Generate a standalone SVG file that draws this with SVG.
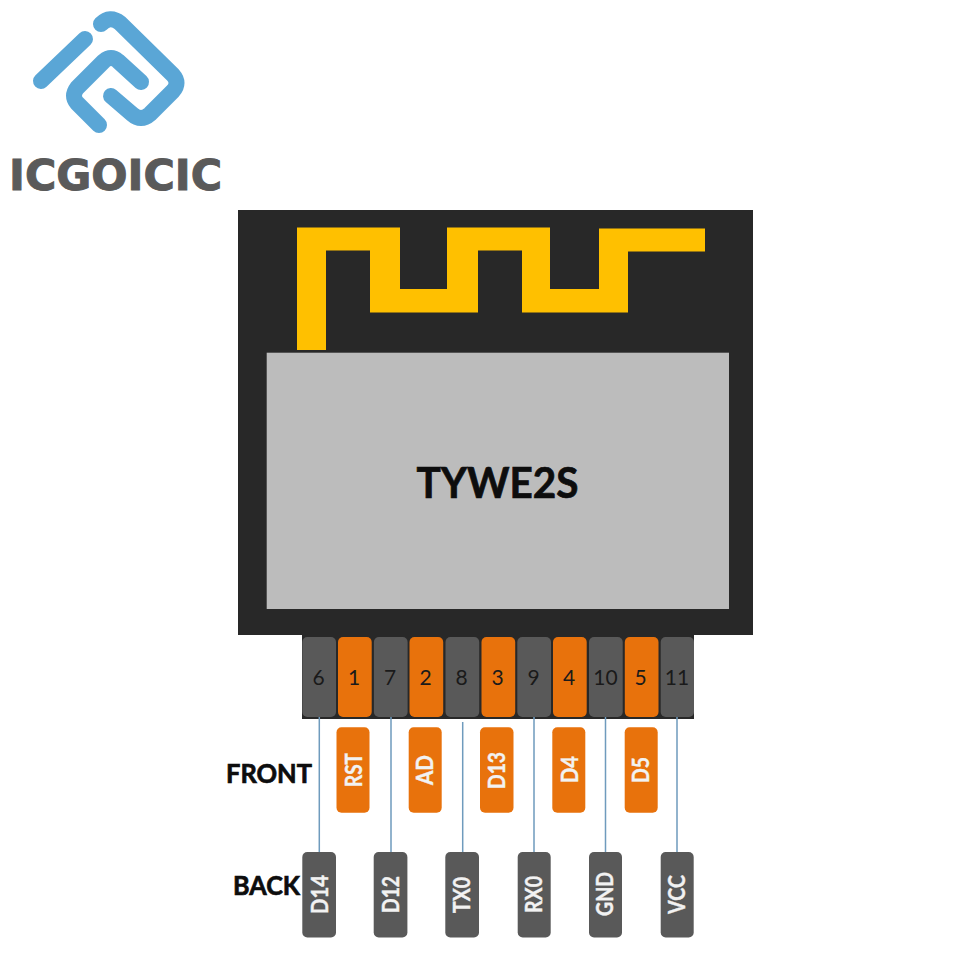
<svg xmlns="http://www.w3.org/2000/svg" width="960" height="960" viewBox="0 0 960 960">
<style>
.t{font-family:Lato,"Open Sans","Liberation Sans",sans-serif}
.pn{font-size:21px;fill:#1a1a1a;text-anchor:middle}
.lb{font-size:22px;font-weight:700;fill:#f2f2f2;stroke:#f2f2f2;stroke-width:.4;text-anchor:middle}
.hd{font-weight:700;fill:#0d0d0d;stroke:#0d0d0d;stroke-width:.7}
.o{fill:#e8720c}
.g{fill:#595959}
.c{stroke:#6f9bbd;stroke-width:1.5;fill:none}
.lg{fill:none;stroke:#5aa6d6;stroke-width:16;stroke-linecap:round;stroke-linejoin:round}
</style>
<rect width="960" height="960" fill="#fff"/>
<g id="logo">
<path class="lg" d="M85 39L41 81"/>
<path class="lg" d="M101 24Q110 15 120 23L173 75Q180 83 173 91L150 114Q141 122 132 114L111 96"/>
<path class="lg" d="M141 82L118 61Q111 55 104 61L77 88Q71 96 77 103L99 125"/>
<text x="9" y="190" font-family="'DejaVu Sans',sans-serif" font-weight="700" font-size="43" fill="#5a5a5a" stroke="#5a5a5a" stroke-width="1" textLength="213" lengthAdjust="spacingAndGlyphs">ICGOICIC</text>
</g>
<g id="module">
<rect x="238" y="210" width="515" height="425" fill="#282828"/>
<path fill="#ffc000" d="M297 227.500H400V289H447V227.500H550V289H599V228.500H705V251.500H628V312.500H522V250.500H478V312.500H370V250.500H326V350H297Z"/>
<rect x="266.700" y="352.700" width="462.300" height="256.300" fill="#bcbcbc"/>
<text class="t hd" x="416.500" y="497.500" font-size="42" textLength="162" lengthAdjust="spacingAndGlyphs">TYWE2S</text>
</g>
<g id="pin-bar"><rect x="302" y="630" width="392" height="89" fill="#282828"/></g>
<g id="connectors">
<path class="c" d="M319.300 717V852M391 717V852M462.700 722V852M534 717V852M605.500 717V852M677 717V852"/>
</g>
<g id="pin-6"><rect class="g" x="302.300" y="637" width="33.700" height="80" rx="5"/><text class="t pn" x="318.500" y="685">6</text></g>
<g id="pin-1"><rect class="o" x="338" y="637" width="33.700" height="80" rx="5"/><text class="t pn" x="354" y="685">1</text></g>
<g id="pin-7"><rect class="g" x="373.900" y="637" width="33.700" height="80" rx="5"/><text class="t pn" x="390" y="685">7</text></g>
<g id="pin-2"><rect class="o" x="409.500" y="637" width="33.700" height="80" rx="5"/><text class="t pn" x="425.500" y="685">2</text></g>
<g id="pin-8"><rect class="g" x="445.500" y="637" width="33.700" height="80" rx="5"/><text class="t pn" x="461.500" y="685">8</text></g>
<g id="pin-3"><rect class="o" x="481.500" y="637" width="33.700" height="80" rx="5"/><text class="t pn" x="497.500" y="685">3</text></g>
<g id="pin-9"><rect class="g" x="517.300" y="637" width="33.700" height="80" rx="5"/><text class="t pn" x="533.500" y="685">9</text></g>
<g id="pin-4"><rect class="o" x="553" y="637" width="33.700" height="80" rx="5"/><text class="t pn" x="569" y="685">4</text></g>
<g id="pin-10"><rect class="g" x="589" y="637" width="33.700" height="80" rx="5"/><text class="t pn" x="605.500" y="685">10</text></g>
<g id="pin-5"><rect class="o" x="624.800" y="637" width="33.700" height="80" rx="5"/><text class="t pn" x="640.500" y="685">5</text></g>
<g id="pin-11"><rect class="g" x="660.700" y="637" width="33.300" height="80" rx="5"/><text class="t pn" x="677" y="685">11</text></g>
<g id="label-front"><text class="t hd" x="226" y="783" font-size="27" textLength="86" lengthAdjust="spacingAndGlyphs">FRONT</text></g>
<g id="label-back"><text class="t hd" x="233" y="895" font-size="27" textLength="67" lengthAdjust="spacingAndGlyphs">BACK</text></g>
<g id="f-rst"><rect class="o" x="336.500" y="727.300" width="33" height="85.400" rx="5"/><text class="t lb" transform="translate(361.500 770) rotate(-90)" textLength="34" lengthAdjust="spacingAndGlyphs">RST</text></g>
<g id="f-ad"><rect class="o" x="408.700" y="727.300" width="33" height="85.400" rx="5"/><text class="t lb" transform="translate(433 770) rotate(-90)" textLength="30" lengthAdjust="spacingAndGlyphs">AD</text></g>
<g id="f-d13"><rect class="o" x="480" y="727.300" width="33.500" height="85.400" rx="5"/><text class="t lb" transform="translate(505 770.500) rotate(-90)" textLength="37" lengthAdjust="spacingAndGlyphs">D13</text></g>
<g id="f-d4"><rect class="o" x="552.300" y="727.300" width="33" height="85.400" rx="5"/><text class="t lb" transform="translate(578 769.500) rotate(-90)" textLength="27" lengthAdjust="spacingAndGlyphs">D4</text></g>
<g id="f-d5"><rect class="o" x="624.700" y="727.300" width="33" height="85.400" rx="5"/><text class="t lb" transform="translate(649 770) rotate(-90)" textLength="26" lengthAdjust="spacingAndGlyphs">D5</text></g>
<g id="b-d14"><rect class="g" x="302.300" y="852" width="33.700" height="85.400" rx="5"/><text class="t lb" transform="translate(327.500 894.500) rotate(-90)" textLength="39" lengthAdjust="spacingAndGlyphs">D14</text></g>
<g id="b-d12"><rect class="g" x="373.700" y="852" width="33.700" height="85.400" rx="5"/><text class="t lb" transform="translate(399 894.500) rotate(-90)" textLength="37" lengthAdjust="spacingAndGlyphs">D12</text></g>
<g id="b-tx0"><rect class="g" x="445.300" y="852" width="33.700" height="85.400" rx="5"/><text class="t lb" transform="translate(470 895) rotate(-90)" textLength="36" lengthAdjust="spacingAndGlyphs">TX0</text></g>
<g id="b-rx0"><rect class="g" x="517.700" y="852" width="33" height="85.400" rx="5"/><text class="t lb" transform="translate(542 894.500) rotate(-90)" textLength="37" lengthAdjust="spacingAndGlyphs">RX0</text></g>
<g id="b-gnd"><rect class="g" x="589" y="852" width="33" height="85.400" rx="5"/><text class="t lb" transform="translate(613 894) rotate(-90)" textLength="44" lengthAdjust="spacingAndGlyphs">GND</text></g>
<g id="b-vcc"><rect class="g" x="660.700" y="852" width="33" height="85.400" rx="5"/><text class="t lb" transform="translate(685 894.500) rotate(-90)" textLength="39" lengthAdjust="spacingAndGlyphs">VCC</text></g>
</svg>
